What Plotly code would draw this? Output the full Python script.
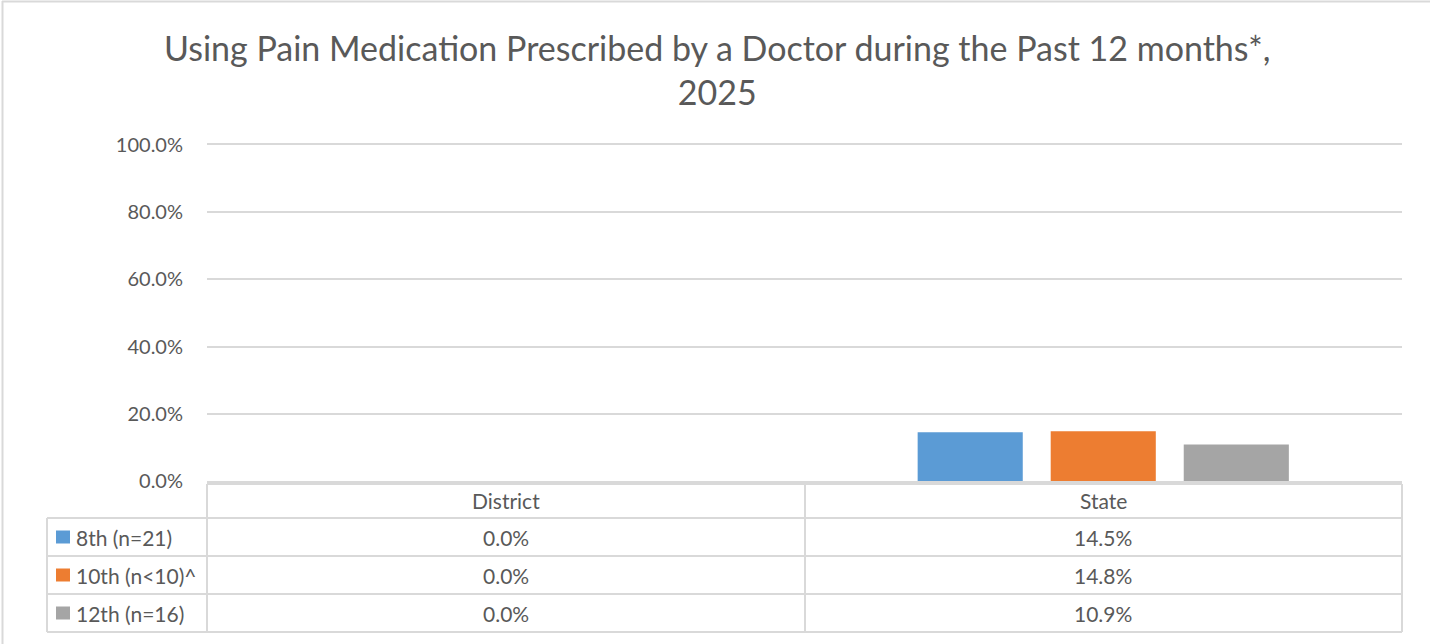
import plotly.graph_objects as go

categories = ["District", "State"]
series_names = ["8th (n=21)", "10th (n<10)^", "12th (n=16)"]
series_values = [
    [0.0, 14.5],
    [0.0, 14.8],
    [0.0, 10.9],
]
colors = ["#5B9BD5", "#ED7D31", "#A5A5A5"]
tick_vals = [0, 20, 40, 60, 80, 100]
tick_labels = ["0.0%", "20.0%", "40.0%", "60.0%", "80.0%", "100.0%"]
title_text = "Using Pain Medication Prescribed by a Doctor during the Past 12 months*,<br>2025"

OFF = 0  # body margin removed by post_script
W, H = 1430 - OFF, 644 - OFF
# plot area in screen pixels: x 207..1402, y 145..481
L = 207 - OFF
R = W - (1402 - OFF)
B = H - (481 - OFF)
T = 145 - OFF
PW = W - L - R
PH = H - T - B

def px(x):
    return (x - OFF - L) / PW

def py(y):
    return (H - B - (y - OFF)) / PH

FONT = "Lato, Carlito, Calibri, sans-serif"
TXT = "#595959"
LINE = "#D9D9D9"

fig = go.Figure()
for name, vals, col in zip(series_names, series_values, colors):
    fig.add_trace(go.Bar(x=categories, y=vals, name=name, marker_color=col,
                         marker_line_width=0, showlegend=False))

shapes = []
# outer chart border (top and left visible)
shapes.append(dict(type="line", xref="paper", yref="paper",
                   x0=px(2), x1=px(1440), y0=py(1.5), y1=py(1.5),
                   line=dict(color=LINE, width=2), layer="below"))
shapes.append(dict(type="line", xref="paper", yref="paper",
                   x0=px(2.5), x1=px(2.5), y0=py(1), y1=py(660),
                   line=dict(color=LINE, width=2), layer="below"))
# table horizontal lines
shapes.append(dict(type="line", xref="paper", yref="paper", x0=px(207), x1=px(1402),
                   y0=py(484), y1=py(484), line=dict(color=LINE, width=2)))
for yy in [518, 556, 594, 632]:
    shapes.append(dict(type="line", xref="paper", yref="paper", x0=px(47), x1=px(1402),
                       y0=py(yy), y1=py(yy), line=dict(color=LINE, width=2)))
# vertical lines
shapes.append(dict(type="line", xref="paper", yref="paper", x0=px(47), x1=px(47),
                   y0=py(518), y1=py(632), line=dict(color=LINE, width=2)))
for xx in [207, 805, 1402]:
    shapes.append(dict(type="line", xref="paper", yref="paper", x0=px(xx), x1=px(xx),
                       y0=py(484), y1=py(632), line=dict(color=LINE, width=2)))

TS = 21
annotations = []
# title
annotations.append(dict(x=px(717), xref="paper", y=py(70), yref="paper", text=title_text,
                        showarrow=False, font=dict(family=FONT, size=34, color=TXT),
                        xanchor="center", yanchor="middle", align="center"))
for c in categories:
    annotations.append(dict(x=c, xref="x", y=py(500), yref="paper", text=c,
                            showarrow=False, font=dict(family=FONT, size=TS, color=TXT),
                            xanchor="center", yanchor="middle"))
row_centers = [537, 575, 613]
for i, (name, vals, col) in enumerate(zip(series_names, series_values, colors)):
    yc = row_centers[i]
    shapes.append(dict(type="rect", xref="paper", yref="paper",
                       x0=px(56), x1=px(70), y0=py(yc - 6.5), y1=py(yc + 6.5),
                       fillcolor=col, line=dict(width=0)))
    annotations.append(dict(x=px(74), xref="paper", y=py(yc), yref="paper", text=name,
                            showarrow=False, font=dict(family=FONT, size=TS, color=TXT),
                            xanchor="left", yanchor="middle"))
    for c, v in zip(categories, vals):
        annotations.append(dict(x=c, xref="x", y=py(yc), yref="paper", text=f"{v:.1f}%",
                                showarrow=False, font=dict(family=FONT, size=TS, color=TXT),
                                xanchor="center", yanchor="middle"))

fig.update_layout(
    width=W, height=H,
    margin=dict(l=L, r=R, t=T, b=B, pad=0),
    paper_bgcolor="white", plot_bgcolor="white",
    barmode="group", bargap=0.332, bargroupgap=0.21,
    xaxis=dict(showticklabels=False, showgrid=False, zeroline=False,
               showline=True, mirror=True, linecolor=LINE, linewidth=1.5,
               ticks=""),
    yaxis=dict(range=[0, 100], tickvals=tick_vals, ticktext=tick_labels,
               showgrid=True, gridcolor=LINE, gridwidth=1.5, zeroline=False,
               showline=False, ticks="", ticklabelstandoff=23,
               tickfont=dict(family=FONT, size=20, color=TXT)),
    shapes=shapes, annotations=annotations,
)
fig.write_html("out.html", config={"displayModeBar": False},
               post_script="document.body.style.margin='0';document.body.style.overflow='hidden';")
